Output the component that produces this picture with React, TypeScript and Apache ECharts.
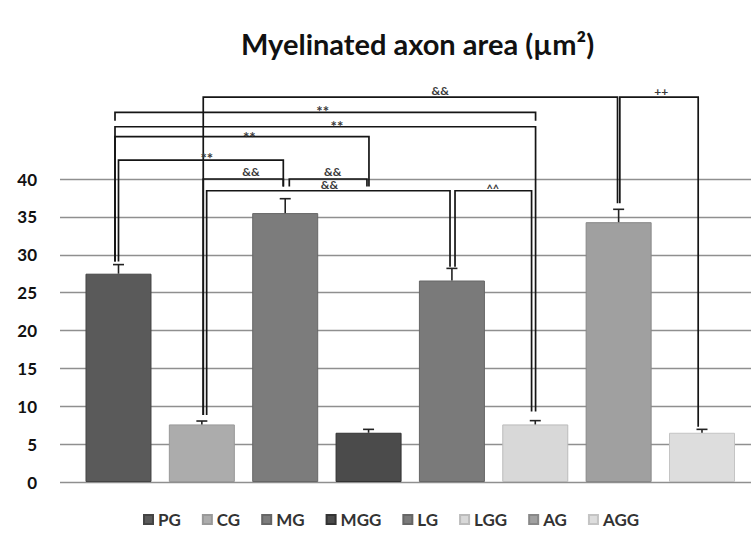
import React, { useEffect, useRef } from "react";
import * as echarts from "echarts";

// ---- data ----
const groups = ["PG", "CG", "MG", "MGG", "LG", "LGG", "AG", "AGG"];
const means = [27.5, 7.6, 35.5, 6.5, 26.6, 7.6, 34.3, 6.5];
const errors = [1.2, 0.45, 1.9, 0.45, 1.6, 0.5, 1.7, 0.45];
const yMin = 0;
const yMax = 40;
const yStep = 5;

// significance brackets (group index from/to, height, leg end values, label, label x position)
const bracketFrom = [1, 6, 0, 0, 0, 0, 1, 2, 1, 4];
const bracketTo = [6, 7, 5, 5, 3, 2, 2, 3, 4, 5];
const bracketHeight = [50.8, 50.8, 48.8, 46.9, 45.6, 42.5, 40.0, 40.0, 38.45, 38.45];
const bracketLegFrom = [8.85, 36.8, 47.7, 29.1, 29.1, 29.1, 8.85, 39.0, 8.85, 28.4];
const bracketLegTo = [36.8, 7.3, 47.7, 9.3, 39.0, 39.0, 39.0, 39.0, 28.4, 9.3];
const bracketLabels = ["&&", "++", "**", "**", "**", "**", "&&", "&&", "&&", "^^"];
const bracketLabelX = [3.86, 6.51, 2.45, 2.62, 1.57, 1.06, 1.59, 2.57, 2.53, 4.49];

// ---- styles ----
const colors = ["#5a5a5a", "#acacac", "#7c7c7c", "#4b4b4b", "#7a7a7a", "#d8d8d8", "#a0a0a0", "#dddddd"];
const borders = ["#444", "#999", "#666", "#333", "#666", "#bbb", "#888", "#c4c4c4"];
const legOffsetFrom = [1.4, 1.2, -3.5, -3.5, -3.5, 0, 1.4, 4.1, 4.8, 3.1];
const legOffsetTo = [-1.1, -3.8, 0.3, 0.3, 0.4, -1.9, -1.9, -1.6, -1.9, -3.7];
const labelLift = [7, 6, 5, 5, 4, 6, 8, 8, 6, 5];

export default function App() {
  const ref = useRef<HTMLDivElement>(null);
  useEffect(() => {
    if (!ref.current) return;
    const chart = echarts.init(ref.current, null, { renderer: "svg" });
    const barSeries = groups.map((g, i) => ({
      type: "bar",
      name: g,
      data: [[i, means[i]]],
      barWidth: 66,
      barGap: "-100%",
      itemStyle: { color: colors[i], borderColor: borders[i], borderWidth: 1 },
      z: 2,
    }));
    const option: any = {
      animation: false,
      backgroundColor: "#ffffff",
      title: {
        text: "Myelinated axon area (µm²)",
        left: 236,
        top: 24,
        textStyle: { fontFamily: "Lato", fontWeight: "bold", fontSize: 29, color: "#111" },
      },
      legend: {
        data: groups,
        left: 143,
        top: 511,
        padding: 0,
        icon: "rect",
        itemWidth: 9,
        itemHeight: 9,
        itemGap: 21,
        textStyle: { fontFamily: "Lato", fontWeight: "bold", fontSize: 17, lineHeight: 17, color: "#333" },
      },
      grid: { left: 60, right: 0, top: 179, bottom: 52 },
      xAxis: {
        type: "value",
        min: -0.7018,
        max: 7.588,
        show: false,
      },
      yAxis: {
        type: "value",
        min: yMin,
        max: yMax,
        interval: yStep,
        axisLine: { show: false },
        axisTick: { show: false },
        axisLabel: {
          margin: 23,
          fontFamily: "Lato",
          fontWeight: "bold",
          fontSize: 17,
          color: "#111",
        },
        splitLine: { lineStyle: { color: "#8f8f8f", width: 1.3 } },
      },
      series: [
        ...barSeries,
        {
          type: "custom",
          name: "errors",
          silent: true,
          z: 3,
          encode: { x: 0, y: [1, 2] },
          data: means.map((m, i) => [i, m, m + errors[i]]),
          renderItem: (params: any, api: any) => {
            const x = api.value(0);
            const p0 = api.coord([x, api.value(1)]);
            const p1 = api.coord([x, api.value(2)]);
            return {
              type: "group",
              children: [
                { type: "line", shape: { x1: p0[0], y1: p0[1], x2: p1[0], y2: p1[1] }, style: { stroke: "#222", lineWidth: 1.6 } },
                { type: "line", shape: { x1: p1[0] - 5.5, y1: p1[1], x2: p1[0] + 5.5, y2: p1[1] }, style: { stroke: "#222", lineWidth: 1.6 } },
              ],
            };
          },
        },
        {
          type: "custom",
          name: "brackets",
          silent: true,
          z: 4,
          encode: { x: 0, y: 2 },
          data: bracketFrom.map((f, k) => [f, bracketTo[k], bracketHeight[k], bracketLegFrom[k], bracketLegTo[k], bracketLabelX[k]]),
          renderItem: (params: any, api: any) => {
            const k = params.dataIndex;
            const h = api.value(2);
            const pf = api.coord([api.value(0), h]);
            const pt = api.coord([api.value(1), h]);
            const xf = pf[0] + legOffsetFrom[k];
            const xt = pt[0] + legOffsetTo[k];
            const yf = api.coord([0, api.value(3)])[1];
            const yt = api.coord([0, api.value(4)])[1];
            const lx = api.coord([api.value(5), h])[0];
            const lbl = bracketLabels[k];
            const star = lbl.indexOf("*") >= 0;
            const caret = lbl.indexOf("^") >= 0;
            return {
              type: "group",
              children: [
                {
                  type: "polyline",
                  shape: { points: [[xf, yf], [xf, pf[1]], [xt, pf[1]], [xt, yt]] },
                  style: { stroke: "#151515", lineWidth: 1.7, fill: "none" },
                },
                {
                  type: "text",
                  x: lx,
                  y: pf[1] - labelLift[k] + (star ? 4 : caret ? 3 : 0),
                  style: {
                    text: lbl,
                    align: "center",
                    verticalAlign: "middle",
                    fontFamily: "Lato",
                    fontWeight: "bold",
                    fontSize: star ? 15 : caret ? 11 : 12,
                    fill: "#3a3a3a",
                  },
                },
              ],
            };
          },
        },
      ],
    };
    chart.setOption(option);
    return () => chart.dispose();
  }, []);
  return (
    <div
      ref={ref}
      style={{ position: "fixed", left: 0, top: 0, width: 751, height: 534, background: "#fff" }}
    />
  );
}
